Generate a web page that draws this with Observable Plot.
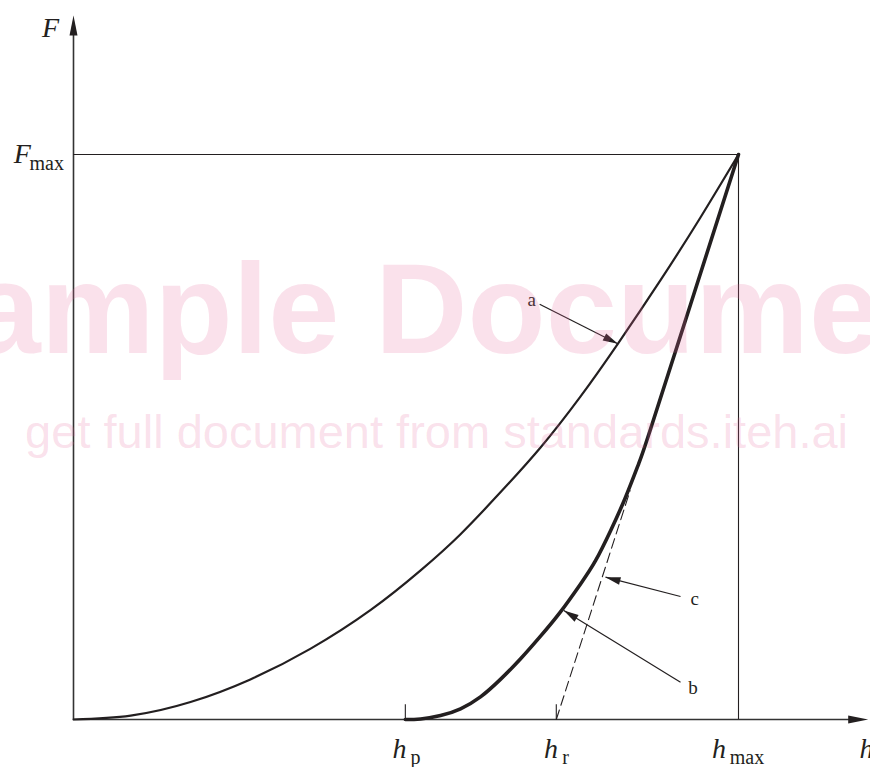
<!DOCTYPE html>
<html><head><meta charset="utf-8">
<script src="https://cdn.jsdelivr.net/npm/d3@7"></script>
<script src="https://cdn.jsdelivr.net/npm/@observablehq/plot@0.6"></script>
<style>html,body{margin:0;padding:0;background:#fff;} svg{display:block}</style>
</head><body><div id="chart"></div>
<script>
// Normalised units: h / h_max and F / F_max
const loadingH   = [0, 0.086, 0.176, 0.266, 0.356, 0.447, 0.522, 0.582, 0.642, 0.702, 0.762, 0.818, 0.883, 0.943, 1.0];
const loadingF   = [0, 0.007, 0.031, 0.071, 0.125, 0.194, 0.264, 0.328, 0.402, 0.481, 0.571, 0.664, 0.778, 0.889, 1.0];
const unloadingH = [0.499, 0.522, 0.552, 0.582, 0.612, 0.642, 0.672, 0.702, 0.732, 0.762, 0.785, 0.808, 0.830, 0.850, 0.868, 0.928, 1.0];
const unloadingF = [0, 0.001, 0.007, 0.019, 0.040, 0.071, 0.107, 0.147, 0.190, 0.239, 0.281, 0.335, 0.393, 0.453, 0.515, 0.735, 1.0];
const tangentH   = [0.726, 0.837];
const tangentF   = [0, 0.405];
const hp = 0.499, hr = 0.726, hmax = 1, Fmax = 1;
const hEnd = 1.195, FEnd = 1.246;

const mainLabels = [
  {text: "F", h: -0.0346, F: 1.2088},
  {text: "F", h: -0.0771, F: 0.9846},
  {text: "h", h: 0.4902, F: -0.069},
  {text: "h", h: 0.718,  F: -0.069},
  {text: "h", h: 0.9705, F: -0.069},
  {text: "h", h: 1.1925, F: -0.069}
];
const subLabels = [
  {text: "max", h: -0.0662, F: 0.9717},
  {text: "p",   h: 0.5068,  F: -0.0796},
  {text: "r",   h: 0.7349,  F: -0.0796},
  {text: "max", h: 0.9869,  F: -0.0796}
];
const callouts = [
  {label: "a", labelH: 0.689, labelF: 0.731, fromH: 0.701, fromF: 0.735, toH: 0.8185, toF: 0.665},
  {label: "b", labelH: 0.9316, labelF: 0.0455, fromH: 0.9128, fromF: 0.066, toH: 0.7373, toF: 0.193},
  {label: "c", labelH: 0.934, labelF: 0.2018, fromH: 0.9128, fromF: 0.2177, toH: 0.800, toF: 0.2519}
];
const watermark = [
  {text: "Sample Document", h: 0.555, F: 0.648},
  {text: "get full document from standards.iteh.ai", h: 0.546, F: 0.480}
];

const loading = loadingH.map((h, i) => ({h, F: loadingF[i]}));
const unloading = unloadingH.map((h, i) => ({h, F: unloadingF[i]}));
const tangent = tangentH.map((h, i) => ({h, F: tangentF[i]}));

const ink = "#231f20";
const X_RANGE = [73, 738], Y_RANGE = [719, 154];
const pxH = X_RANGE[1] - X_RANGE[0], pxF = Y_RANGE[0] - Y_RANGE[1];
const angle = (h0, F0, h1, F1) => {
  const dx = (h1 - h0) * pxH, dy = -(F1 - F0) * pxF;
  return Math.atan2(dx, -dy) * 180 / Math.PI;
};
const makeHead = (ratio) => ({
  draw(ctx, size) {
    const L = Math.sqrt(size / Math.PI), w = L * ratio;
    ctx.moveTo(0, 0); ctx.lineTo(w, L); ctx.lineTo(-w, L); ctx.closePath();
  }
});
const axisHead = makeHead(0.2);
const calloutHead = makeHead(0.26);
const calloutHeads = callouts.map(d => ({h: d.toH, F: d.toF, rot: angle(d.fromH, d.fromF, d.toH, d.toF)}));

const chart = Plot.plot({
  width: 870, height: 767,
  marginTop: 0, marginRight: 0, marginBottom: 0, marginLeft: 0,
  x: {domain: [0, 1], range: X_RANGE, axis: null},
  y: {domain: [0, 1], range: Y_RANGE, axis: null},
  style: {background: "#fff", overflow: "hidden"},
  marks: [
    // axes
    Plot.ruleX([0], {y1: 0, y2: FEnd - 0.02, stroke: "#333", strokeWidth: 1.6}),
    Plot.ruleY([0], {x1: 0, x2: hEnd - 0.02, stroke: "#333", strokeWidth: 1.6}),
    Plot.dot([{h: 0, F: FEnd}], {x: "h", y: "F", symbol: axisHead, r: 20, rotate: 0, fill: ink, stroke: null}),
    Plot.dot([{h: hEnd, F: 0}], {x: "h", y: "F", symbol: axisHead, r: 20, rotate: 90, fill: ink, stroke: null}),
    // reference lines
    Plot.ruleY([Fmax], {x1: 0, x2: hmax, stroke: ink, strokeWidth: 1.1}),
    Plot.ruleX([hmax], {y1: 0, y2: Fmax, stroke: ink, strokeWidth: 1.1}),
    Plot.ruleX([hp, hr], {y1: 0, y2: 0.026, stroke: ink, strokeWidth: 1.1}),
    // tangent
    Plot.line(tangent, {x: "h", y: "F", stroke: ink, strokeWidth: 1.1, strokeDasharray: "10,5"}),
    // curves
    Plot.line(loading, {x: "h", y: "F", curve: "natural", stroke: ink, strokeWidth: 2.2}),
    Plot.line(unloading, {x: "h", y: "F", curve: "natural", stroke: ink, strokeWidth: 3.6}),
    // callouts
    Plot.link(callouts, {x1: "fromH", y1: "fromF", x2: "toH", y2: "toF", stroke: ink, strokeWidth: 1.2}),
    Plot.dot(calloutHeads, {x: "h", y: "F", rotate: "rot", symbol: calloutHead, r: 15, fill: ink, stroke: null}),
    Plot.text(callouts, {x: "labelH", y: "labelF", text: "label", fontFamily: "Liberation Serif", fontSize: 19, fill: ink, textAnchor: "middle", lineAnchor: "bottom"}),
    // axis labels
    Plot.text(mainLabels, {x: "h", y: "F", text: "text", fontFamily: "Liberation Serif", fontStyle: "italic", fontSize: 28, fill: ink, textAnchor: "middle", lineAnchor: "bottom"}),
    Plot.text(subLabels, {x: "h", y: "F", text: "text", fontFamily: "Liberation Serif", fontSize: 20, fill: ink, textAnchor: "start", lineAnchor: "bottom"}),
    // watermark
    Plot.text(watermark.slice(0, 1), {x: "h", y: "F", text: "text", fontFamily: "Liberation Sans", fontWeight: "bold", fontSize: 128, fill: "rgb(230,105,155)", fillOpacity: 0.2, textAnchor: "middle", lineAnchor: "bottom"}),
    Plot.text(watermark.slice(1), {x: "h", y: "F", text: "text", fontFamily: "Liberation Sans", fontSize: 47, fill: "rgb(230,105,155)", fillOpacity: 0.2, textAnchor: "middle", lineAnchor: "bottom"})
  ]
});
document.getElementById("chart").appendChild(chart);
</script>
</body></html>
